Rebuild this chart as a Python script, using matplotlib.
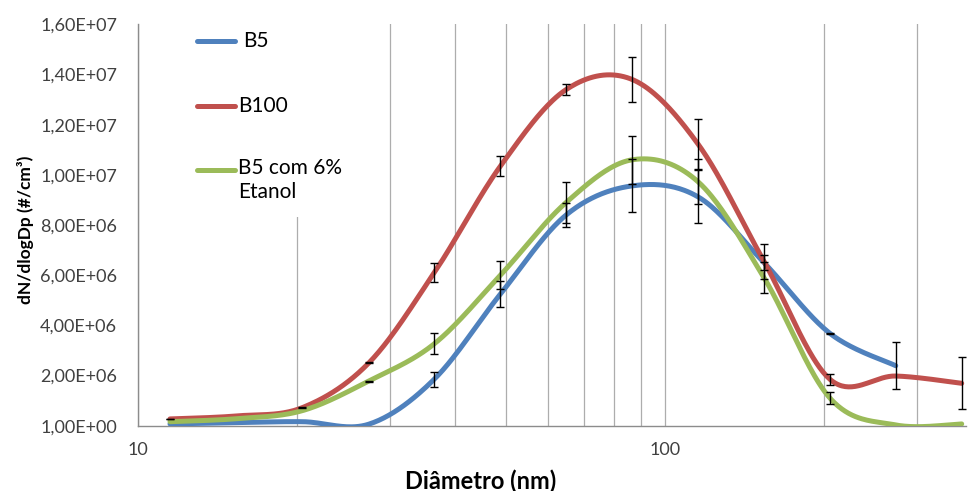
import numpy as np
import matplotlib.pyplot as plt
from matplotlib.patches import Rectangle
from matplotlib.ticker import FixedLocator, FuncFormatter, NullFormatter

plt.rcParams['font.family'] = ['Lato', 'DejaVu Sans']

## dados
diametro = [11.5, 15.4, 20.5, 27.4, 36.5, 48.7, 64.9, 86.6, 115.5, 154.0, 205.4, 273.8, 365.2]

b5 = [0.07e6, 0.12e6, 0.16e6, 0.06e6, 1.86e6, 5.25e6, 8.40e6, 9.56e6, 9.12e6, 6.50e6, 3.68e6, 2.39e6]
b5_err = [0, 0, 0, 0, 0.30e6, 0.51e6, 0.47e6, 1.06e6, 1.06e6, 0.30e6, 0.02e6, 0.93e6]

b100 = [0.27e6, 0.39e6, 0.72e6, 2.50e6, 6.11e6, 10.35e6, 13.40e6, 13.80e6, 11.22e6, 6.55e6, 1.85e6, 1.98e6, 1.69e6]
b100_err = [0.01e6, 0, 0.02e6, 0.02e6, 0.38e6, 0.40e6, 0.22e6, 0.89e6, 1.00e6, 0.70e6, 0.23e6, 0, 1.04e6]

b5_etanol = [0.16e6, 0.28e6, 0.60e6, 1.78e6, 3.27e6, 6.00e6, 8.90e6, 10.60e6, 9.72e6, 5.90e6, 1.10e6, 0.03e6, 0.07e6]
b5_etanol_err = [0, 0, 0, 0.02e6, 0.41e6, 0.56e6, 0.82e6, 0.95e6, 0.90e6, 0.62e6, 0.25e6, 0, 0]

yticks = [1 + 2e6 * k for k in range(9)]

series = [
    ("B5", b5, b5_err, "#4F81BD"),
    ("B100", b100, b100_err, "#C0504D"),
    ("B5 com 6%\nEtanol", b5_etanol, b5_etanol_err, "#9BBB59"),
]


def suave(x, y, n=40):
    # linha suavizada tipo Excel (bezier / catmull-rom) em escala log
    lx = np.log10(np.asarray(x, float))
    y = np.asarray(y, float)
    px = np.r_[lx[0], lx, lx[-1]]
    py = np.r_[y[0], y, y[-1]]
    t = np.linspace(0, 1, n)[:, None]
    xs, ys = [], []
    for i in range(1, len(px) - 2):
        p0 = np.array([px[i], py[i]])
        p3 = np.array([px[i + 1], py[i + 1]])
        c1 = p0 + (p3 - np.array([px[i - 1], py[i - 1]])) / 6
        c2 = p3 - (np.array([px[i + 2], py[i + 2]]) - p0) / 6
        b = (1 - t) ** 3 * p0 + 3 * (1 - t) ** 2 * t * c1 + 3 * (1 - t) * t ** 2 * c2 + t ** 3 * p3
        xs.append(b[:, 0])
        ys.append(b[:, 1])
    return 10 ** np.concatenate(xs), np.concatenate(ys)


fig = plt.figure(figsize=(9.74, 4.91), dpi=100)
ax = fig.add_axes([0.1417, 0.133, 0.850, 0.8175])

for nome, vals, err, cor in series:
    xd = diametro[:len(vals)]
    xs, ys = suave(xd, vals)
    ax.plot(xs, ys, color=cor, lw=3.6, solid_capstyle='round', zorder=3)
    # so os pontos com barra de erro visivel
    idx = [i for i, e in enumerate(err) if e > 0]
    ax.errorbar([xd[i] for i in idx], [vals[i] for i in idx], yerr=[err[i] for i in idx],
                fmt='none', ecolor='black', elinewidth=1, capsize=3, capthick=1, zorder=4)

ax.set_xscale('log')
ax.set_xlim(10, 372)
ax.set_ylim(1, 16000001)

ax.xaxis.set_major_locator(FixedLocator([10, 100]))
ax.xaxis.set_minor_locator(FixedLocator([20, 30, 40, 50, 60, 70, 80, 90, 200, 300]))
ax.xaxis.set_major_formatter(FuncFormatter(lambda v, p: f"{v:g}"))
ax.xaxis.set_minor_formatter(NullFormatter())
ax.set_yticks(yticks)
ax.yaxis.set_major_formatter(FuncFormatter(lambda v, p: f"{v:.2E}".replace('.', ',')))

ax.grid(axis='x', which='both', color='#ADADAD', lw=0.9)
ax.set_axisbelow(True)
ax.tick_params(axis='both', which='both', length=0, labelsize=13, colors='#404040')
ax.tick_params(axis='x', pad=12)
ax.tick_params(axis='y', pad=15)
for s in ['top', 'right']:
    ax.spines[s].set_visible(False)
for s in ['left', 'bottom']:
    ax.spines[s].set_color('#8C8C8C')
    ax.spines[s].set_linewidth(1.0)

ax.set_xlabel("Diâmetro (nm)", fontsize=17, fontweight='bold')
ax.xaxis.set_label_coords(0.414, -0.108)
ax.set_ylabel("dN/dlogDp (#/cm³)", fontsize=12.5, fontweight='bold')
ax.yaxis.set_label_coords(-0.126, 0.4876)

# legenda desenhada a mao (fundo branco cobre a grade)
ax.add_patch(Rectangle((0.05, 0.52), 0.23, 0.48, transform=ax.transAxes,
                       facecolor='white', edgecolor='none', zorder=1))
ly = [0.958, 0.796, 0.637]
lx_txt = [0.127, 0.121, 0.121]
for (nome, vals, err, cor), yy, xt in zip(series, ly, lx_txt):
    ax.plot([0.0713, 0.117], [yy, yy], transform=ax.transAxes, color=cor, lw=3.6,
            solid_capstyle='round', clip_on=False, zorder=5)
    if '\n' in nome:
        ax.text(xt, yy + 0.03, nome, transform=ax.transAxes, fontsize=15, va='top',
                ha='left', linespacing=1.25, zorder=5)
    else:
        ax.text(xt, yy, nome, transform=ax.transAxes, fontsize=15, va='center',
                ha='left', zorder=5)

fig.savefig('out.png', dpi=100)
